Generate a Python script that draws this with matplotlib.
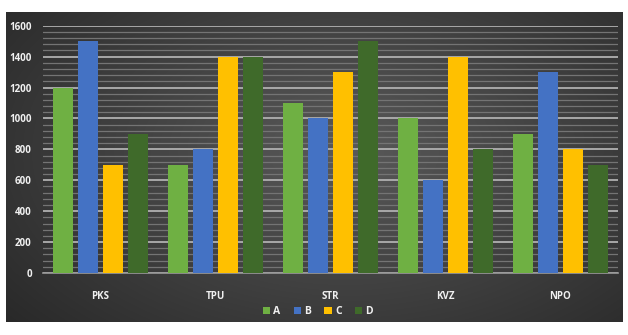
import numpy as np
import matplotlib
matplotlib.use("Agg")
import matplotlib.pyplot as plt
from matplotlib.ticker import MultipleLocator

categories = ["PKS", "TPU", "STR", "KVZ", "NPO"]
series_names = ["A", "B", "C", "D"]
A = [1200, 700, 1100, 1000, 900]
B = [1500, 800, 1000, 600, 1300]
C = [700, 1400, 1300, 1400, 800]
D = [900, 1400, 1500, 800, 700]
yticks = [0, 200, 400, 600, 800, 1000, 1200, 1400, 1600]
colors = ["#6FB043", "#4472C4", "#FFC000", "#3F6A2A"]

plt.rcParams['font.family'] = ['Open Sans', 'DejaVu Sans']

W, H = 628, 335
fig = plt.figure(figsize=(W / 100, H / 100), dpi=100, facecolor="white")

# background panel with gradient
bg = fig.add_axes([6 / W, 1 - 322 / H, 617 / W, 310 / H])
yy, xx = np.mgrid[0:1:200j, 0:1:400j]
r = np.sqrt(((xx - 0.55) * 1.2) ** 2 + ((yy - 0.45) * 1.0) ** 2)
img = 0.35 - 0.22 * r
img = np.clip(img, 0.13, 0.36)
bg.imshow(np.dstack([img, img, img]), aspect="auto", extent=[0, 1, 0, 1], interpolation="bilinear")
bg.set_axis_off()

ax = fig.add_axes([43 / W, 1 - 273 / H, 575 / W, 247.3 / H])
ax.set_facecolor("none")
ax.set_zorder(2)

x = np.arange(len(categories))
bw = 20 / 115
step = 25 / 115
for i, (vals, c) in enumerate(zip([A, B, C, D], colors)):
    ax.bar(x + (i - 1.5) * step, vals, width=bw, color=c, label=series_names[i], zorder=3)

ax.set_xlim(-0.5, len(categories) - 0.5)
ax.set_ylim(0, 1600)
ax.set_yticks(yticks)
ax.yaxis.set_minor_locator(MultipleLocator(40))
ax.grid(axis="y", which="major", color="#b0b0b0", linewidth=1.3, zorder=1)
ax.grid(axis="y", which="minor", color="#747474", linewidth=0.9, zorder=1)
ax.set_xticks(x)
ax.set_xticklabels(categories)
for s in ["top", "right", "left"]:
    ax.spines[s].set_visible(False)
ax.spines["bottom"].set_color("#9a9a9a")
ax.spines["bottom"].set_linewidth(1.2)
ax.tick_params(axis="both", which="both", length=0, colors="white", labelsize=7)
ax.tick_params(axis="x", pad=13)
ax.tick_params(axis="y", pad=8)
for lab in ax.get_xticklabels() + ax.get_yticklabels():
    lab.set_fontweight("bold")
    lab.set_color("#f0f0f0")

leg = ax.legend(loc="center", bbox_to_anchor=(0.478, -0.155), ncol=4, frameon=False,
                handlelength=0.7, handleheight=0.7, handletextpad=0.3, columnspacing=1.3,
                prop={"size": 7.5, "weight": "bold"})
for t in leg.get_texts():
    t.set_color("#f0f0f0")

fig.savefig("out.png", dpi=100, facecolor="white")
